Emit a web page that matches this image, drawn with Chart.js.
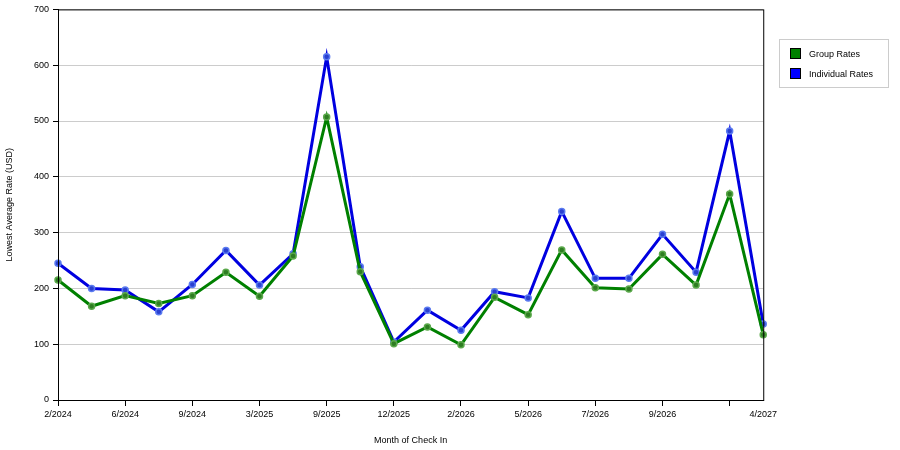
<!DOCTYPE html>
<html><head><meta charset="utf-8">
<script src="https://cdn.jsdelivr.net/npm/chart.js@4"></script>
<style>
body{margin:0;background:#fff;font-family:"Liberation Sans",Arial,sans-serif;}
#wrap{position:absolute;left:0;top:0;width:780px;height:450px;}
#legend{position:absolute;left:779px;top:39px;width:108px;height:47px;border:1px solid #ccc;font-size:9px;}
.it{position:absolute;left:10px;display:flex;align-items:center;}
.sw{width:11px;height:11px;border:1px solid #000;margin-right:8px;box-sizing:border-box;}
</style></head><body>
<div id="wrap"><canvas id="c"></canvas></div>
<div id="legend">
<div class="it" style="top:8px"><div class="sw" style="background:#008000"></div>Group Rates</div>
<div class="it" style="top:28px"><div class="sw" style="background:#0000ff"></div>Individual Rates</div>
</div>
<script>
const labels=['2/2024','','6/2024','','9/2024','','3/2025','','9/2025','','12/2025','','2/2026','','5/2026','','7/2026','','9/2026','','','4/2027'];
const groupRates=[215,168,187,173,187,229,186,258,507,230,101,131,99,184,153,269,201,199,261,206,369,117];
const individualRates=[245,200,197,158,207,268,206,262,615,239,104,161,125,194,183,338,218,218,297,229,482,136];
const border={id:'border',afterDraw(ch){const a=ch.chartArea,c=ch.ctx;c.save();c.strokeStyle='#000';c.lineWidth=1;c.strokeRect(a.left+0.5,a.top+0.5,a.right-a.left,a.bottom-a.top);c.restore();}};
Chart.defaults.font.family='"Liberation Sans",Arial,sans-serif';
Chart.defaults.font.size=9;Chart.defaults.color='#000';
new Chart(document.getElementById('c'),{type:'line',
data:{labels,datasets:[
{label:'Group Rates',data:groupRates,borderColor:'#008000',backgroundColor:'#2e7d22',pointBorderColor:'#5aa84a',pointBorderWidth:1.5,borderWidth:3,pointRadius:3,tension:0},
{label:'Individual Rates',data:individualRates,borderColor:'#0000e0',backgroundColor:'#2a40d0',pointBorderColor:'#5a7af0',pointBorderWidth:1.5,borderWidth:3,pointRadius:3,tension:0}]},
options:{responsive:true,maintainAspectRatio:false,animation:false,
layout:{padding:{top:0,right:1}},
plugins:{legend:{display:false},tooltip:{enabled:false}},
scales:{
x:{offset:false,grid:{drawOnChartArea:false,tickColor:c=>c.index%2?'transparent':'#000',tickLength:6},border:{color:'#000'},
ticks:{autoSkip:false,maxRotation:0,padding:3},title:{display:true,text:'Month of Check In',padding:{top:6}},afterFit(s){s.height=50;}},
y:{min:0,max:700,ticks:{stepSize:100,padding:4},border:{color:'#000'},grid:{color:'#ccc',tickColor:'#000',tickLength:5,drawTicks:true},
title:{display:true,text:'Lowest Average Rate (USD)'},afterFit(s){s.width=58;}}}},
plugins:[border,{id:'dash',beforeDraw(ch){ch.options.scales.y.border.dash=[]; }}]});
</script>
<script>
// dashed horizontal grid
(function(){const ch=Chart.getChart('c');ch.options.scales.y.border.dash=undefined;ch.options.scales.y.grid.color=c=>c.index===0?'transparent':'#ccc';ch.options.scales.y.border.dashOffset=0;
ch.options.scales.y.grid.tickColor='#000';
ch.options.scales.y.border.display=true;
ch.options.scales.y.grid.drawOnChartArea=true;
ch.options.scales.y.grid.lineWidth=1;
ch.options.scales.y.border.dash=[];
ch.config.options.scales.y.grid.dash=[5,4];
ch.update();})();
</script></body></html>
